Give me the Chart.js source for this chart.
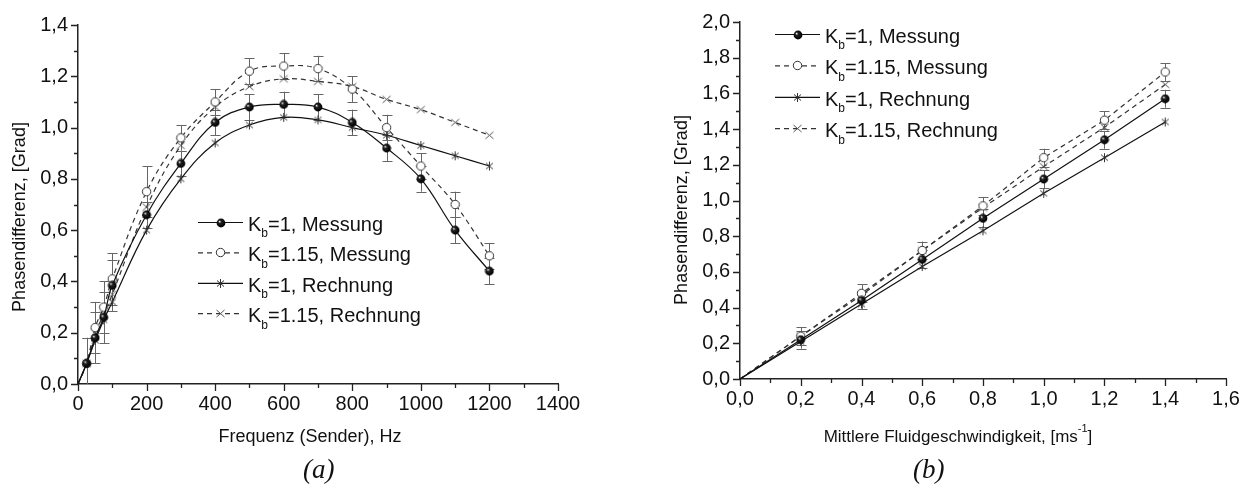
<!DOCTYPE html>
<html>
<head>
<meta charset="utf-8">
<script src="https://cdn.jsdelivr.net/npm/chart.js@4.4.0/dist/chart.umd.min.js"></script>
<style>
  body { margin: 0; background: #fff; width: 1250px; height: 497px; overflow: hidden; position: relative; }
  canvas { position: absolute; top: 0; }
  #chartA { left: 0; }
  #chartB { left: 625px; }
  .panel { position: absolute; top: 456px; font: italic 27px "Liberation Serif", serif; line-height: 1; color: #111; }
</style>
</head>
<body>
<canvas id="chartA" width="625" height="497"></canvas>
<canvas id="chartB" width="625" height="497"></canvas>
<div class="panel" style="left:303px">(a)</div>
<div class="panel" style="left:913px">(b)</div>
<script>
// (a) Phasendifferenz über der Senderfrequenz
const freqHz = [0, 25, 50, 75, 100, 200, 300, 400, 500, 600, 700, 800, 900, 1000, 1100, 1200];
const messungKb1 = [0, 0.08, 0.18, 0.26, 0.385, 0.66, 0.86, 1.02, 1.08, 1.09, 1.08, 1.02, 0.92, 0.80, 0.60, 0.44];
const messungKb115 = [0, 0.08, 0.22, 0.30, 0.41, 0.75, 0.96, 1.10, 1.22, 1.24, 1.23, 1.15, 1.00, 0.85, 0.70, 0.50];
const rechnungKb1 = [0, 0.08, 0.17, 0.25, 0.32, 0.60, 0.80, 0.94, 1.01, 1.04, 1.03, 1.00, 0.97, 0.93, 0.89, 0.85];
const rechnungKb115 = [0, 0.08, 0.20, 0.27, 0.35, 0.69, 0.93, 1.08, 1.16, 1.19, 1.18, 1.16, 1.11, 1.07, 1.02, 0.97];
const fehlerKb1 = [0, 0.1, 0.1, 0.1, 0.1, 0.05, 0.05, 0.05, 0.05, 0.05, 0.05, 0.05, 0.05, 0.05, 0.05, 0.05];
const fehlerKb115 = [0, 0.1, 0.1, 0.1, 0.1, 0.1, 0.05, 0.05, 0.05, 0.05, 0.05, 0.05, 0.05, 0.05, 0.05, 0.05];

// (b) Phasendifferenz über der mittleren Fluidgeschwindigkeit
const geschw = [0, 0.2, 0.4, 0.6, 0.8, 1.0, 1.2, 1.4];
const messungB1 = [0, 0.22, 0.44, 0.67, 0.90, 1.12, 1.34, 1.57];
const messungB115 = [0, 0.24, 0.48, 0.72, 0.97, 1.24, 1.45, 1.72];
const rechnungB1 = [0, 0.21, 0.42, 0.63, 0.83, 1.04, 1.24, 1.44];
const rechnungB115 = [0, 0.24, 0.47, 0.72, 0.96, 1.19, 1.41, 1.65];
const fehlerB = [0, 0.05, 0.05, 0.05, 0.05, 0.05, 0.05, 0.05];

const labels = ['K_b=1, Messung', 'K_b=1.15, Messung', 'K_b=1, Rechnung', 'K_b=1.15, Rechnung'];

const FONT = '"Liberation Sans", Arial, sans-serif';

// Symbole als kleine Canvas-Bilder
function symbol(size, draw) {
  const c = document.createElement('canvas');
  c.width = size; c.height = size;
  draw(c.getContext('2d'), size / 2);
  return c;
}
const kugel = symbol(10, (g, m) => {
  const grad = g.createRadialGradient(m - 1.5, m - 1.5, 0.2, m - 0.5, m - 0.5, 4.6);
  grad.addColorStop(0, '#f0f0f0');
  grad.addColorStop(0.3, '#222');
  grad.addColorStop(1, '#000');
  g.fillStyle = grad;
  g.beginPath(); g.arc(m, m, 4.4, 0, Math.PI * 2); g.fill();
});
const kreis = symbol(11, (g, m) => {
  g.fillStyle = '#fff'; g.strokeStyle = '#333'; g.lineWidth = 1;
  g.beginPath(); g.arc(m, m, 4.2, 0, Math.PI * 2); g.fill(); g.stroke();
});
const stern = symbol(11, (g, m) => {
  g.strokeStyle = '#333'; g.lineWidth = 1;
  g.beginPath();
  g.moveTo(m, 1); g.lineTo(m, 10);
  g.moveTo(2, 2.5); g.lineTo(9, 8.5);
  g.moveTo(9, 2.5); g.lineTo(2, 8.5);
  g.stroke();
});
const kreuz = symbol(11, (g, m) => {
  g.strokeStyle = '#555'; g.lineWidth = 1;
  g.beginPath();
  g.moveTo(1.5, 2); g.lineTo(9.5, 9);
  g.moveTo(9.5, 2); g.lineTo(1.5, 9);
  g.stroke();
});

function reihe(label, xs, ys, punkt, gestrichelt, fehler, tension) {
  return {
    label: label,
    data: xs.map((x, i) => ({ x: x, y: ys[i] })),
    borderColor: gestrichelt ? '#333' : '#111',
    borderWidth: 1.2,
    borderDash: gestrichelt ? [5, 4] : [],
    pointStyle: punkt,
    pointRadius: c => (c.dataIndex === 0 ? 0 : 4),
    tension: tension,
    fill: false,
    fehler: fehler
  };
}

// Kurze Striche an den Achsen (Haupt- und Zwischenteilung)
const achsenStriche = {
  id: 'achsenStriche',
  afterDraw(chart) {
    const { ctx } = chart;
    const { x, y } = chart.scales;
    ctx.save();
    ctx.strokeStyle = '#222';
    ctx.lineWidth = 1.3;
    ctx.beginPath();
    x.ticks.forEach(t => {
      const px = Math.round(x.getPixelForValue(t.value)) + 0.5;
      ctx.moveTo(px, x.top);
      ctx.lineTo(px, x.top + (t.label ? 7 : 4));
    });
    y.ticks.forEach(t => {
      const py = Math.round(y.getPixelForValue(t.value)) + 0.5;
      ctx.moveTo(y.right, py);
      ctx.lineTo(y.right - (t.label ? 7 : 4), py);
    });
    ctx.stroke();
    ctx.restore();
  }
};

// Fehlerbalken der Messreihen
const fehlerBalken = {
  id: 'fehlerBalken',
  beforeDatasetsDraw(chart) {
    const { ctx, chartArea: a } = chart;
    const yS = chart.scales.y;
    ctx.save();
    ctx.beginPath();
    ctx.rect(a.left, a.top - 20, a.right - a.left + 20, a.bottom - a.top + 20);
    ctx.clip();
    ctx.strokeStyle = '#666';
    ctx.lineWidth = 1;
    ctx.beginPath();
    chart.data.datasets.forEach((ds, di) => {
      if (!ds.fehler) return;
      chart.getDatasetMeta(di).data.forEach((pt, i) => {
        const e = ds.fehler[i];
        if (!e) return;
        const v = ds.data[i].y;
        const top = yS.getPixelForValue(v + e);
        const bot = Math.min(yS.getPixelForValue(v - e), a.bottom);
        const px = Math.round(pt.x) + 0.5;
        ctx.moveTo(px, top); ctx.lineTo(px, bot);
        ctx.moveTo(px - 5, Math.round(top) + 0.5); ctx.lineTo(px + 5, Math.round(top) + 0.5);
        if (bot < a.bottom) { ctx.moveTo(px - 5, Math.round(bot) + 0.5); ctx.lineTo(px + 5, Math.round(bot) + 0.5); }
      });
    });
    ctx.stroke();
    ctx.restore();
  }
};

// Text mit Tief-/Hochstellung: Teile der Form {t, sub, sup}
function teileBreite(ctx, teile, size) {
  let w = 0;
  teile.forEach(p => {
    ctx.font = ((p.sub || p.sup) ? Math.round(size * 0.62) : size) + 'px ' + FONT;
    w += ctx.measureText(p.t).width;
  });
  return w;
}
function teileZeichnen(ctx, teile, x, base, size) {
  teile.forEach(p => {
    const s = (p.sub || p.sup) ? Math.round(size * 0.62) : size;
    ctx.font = s + 'px ' + FONT;
    const dy = p.sub ? size * 0.32 : p.sup ? -size * 0.45 : 0;
    ctx.fillText(p.t, x, base + dy);
    x += ctx.measureText(p.t).width;
  });
}
function labelTeile(label) {
  const [k, rest] = label.split('_b');
  return [{ t: k }, { t: 'b', sub: true }, { t: rest }];
}

const legende = {
  id: 'legende',
  afterDraw(chart, args, o) {
    const { ctx } = chart;
    chart.data.datasets.forEach((ds, i) => {
      const cy = o.y + i * o.zeile;
      ctx.save();
      ctx.strokeStyle = ds.borderColor;
      ctx.lineWidth = ds.borderWidth;
      ctx.setLineDash(ds.borderDash);
      ctx.beginPath();
      ctx.moveTo(o.x, cy - 1.5); ctx.lineTo(o.x + o.laenge, cy - 1.5);
      ctx.stroke();
      ctx.restore();
      const img = ds.pointStyle;
      ctx.drawImage(img, Math.round(o.x + o.laenge / 2 - img.width / 2), Math.round(cy - 1.5 - img.height / 2));
      ctx.save();
      ctx.fillStyle = '#111';
      ctx.textBaseline = 'alphabetic';
      teileZeichnen(ctx, labelTeile(ds.label), o.x + o.laenge + 5, cy + 7, 20);
      ctx.restore();
    });
  }
};

const achsenTitel = {
  id: 'achsenTitel',
  afterDraw(chart, args, o) {
    const { ctx } = chart;
    ctx.save();
    ctx.fillStyle = '#111';
    ctx.textBaseline = 'middle';
    const wx = teileBreite(ctx, o.x.teile, o.x.groesse);
    teileZeichnen(ctx, o.x.teile, o.x.cx - wx / 2, o.x.cy, o.x.groesse);
    ctx.translate(o.y.cx, o.y.cy);
    ctx.rotate(-Math.PI / 2);
    const wy = teileBreite(ctx, o.y.teile, o.y.groesse);
    teileZeichnen(ctx, o.y.teile, -wy / 2, 0, o.y.groesse);
    ctx.restore();
  }
};

const komma = v => v.toFixed(1).replace('.', ',');

function diagramm(id, cfg) {
  const tickFont = { family: FONT, size: 20 };
  new Chart(document.getElementById(id), {
    type: 'line',
    data: { datasets: cfg.datasets },
    options: {
      responsive: false,
      animation: false,
      events: [],
      layout: { padding: cfg.padding },
      scales: {
        x: {
          type: 'linear',
          min: cfg.xMin, max: cfg.xMax,
          afterFit: s => { s.height = cfg.xHoehe; },
          grid: { display: false, drawTicks: false },
          border: { display: true, color: '#222', width: 1.5 },
          ticks: {
            stepSize: cfg.xStep, autoSkip: false, maxRotation: 0, padding: 8,
            color: '#111', font: tickFont,
            callback: cfg.xLabel
          }
        },
        y: {
          min: 0, max: cfg.yMax,
          afterFit: s => { s.width = cfg.yBreite; },
          grid: { display: false, drawTicks: false },
          border: { display: true, color: '#222', width: 1.5 },
          ticks: {
            stepSize: 0.1, autoSkip: false, padding: 10,
            color: '#111', font: tickFont,
            callback: v => (Math.round(v * 10) % 2 === 0 ? komma(v) : '')
          }
        }
      },
      plugins: {
        legend: { display: false },
        tooltip: { enabled: false },
        legende: cfg.legende,
        achsenTitel: cfg.titel
      }
    },
    plugins: [fehlerBalken, achsenStriche, legende, achsenTitel]
  });
}

const yTitel = [{ t: 'Phasendifferenz, [Grad]' }];

diagramm('chartA', {
  datasets: [
    reihe(labels[0], freqHz, messungKb1, kugel, false, fehlerKb1, 0.4),
    reihe(labels[1], freqHz, messungKb115, kreis, true, fehlerKb115, 0.4),
    reihe(labels[2], freqHz, rechnungKb1, stern, false, null, 0.4),
    reihe(labels[3], freqHz, rechnungKb115, kreuz, true, null, 0.4)
  ],
  padding: { left: 0, top: 25, right: 67, bottom: 0 },
  xMin: 0, xMax: 1400, xStep: 100, yMax: 1.4,
  xHoehe: 113, yBreite: 78,
  xLabel: v => (v % 200 === 0 ? String(v) : ''),
  legende: { x: 198, y: 224, zeile: 30.4, laenge: 45 },
  titel: {
    x: { teile: [{ t: 'Frequenz (Sender), Hz' }], cx: 310, cy: 437, groesse: 18 },
    y: { teile: yTitel, cx: 20, cy: 217, groesse: 18 }
  }
});

diagramm('chartB', {
  datasets: [
    reihe(labels[0], geschw, messungB1, kugel, false, fehlerB, 0),
    reihe(labels[1], geschw, messungB115, kreis, true, fehlerB, 0),
    reihe(labels[2], geschw, rechnungB1, stern, false, null, 0),
    reihe(labels[3], geschw, rechnungB115, kreuz, true, null, 0)
  ],
  padding: { left: 0, top: 16, right: 24, bottom: 0 },
  xMin: 0, xMax: 1.6, xStep: 0.1, yMax: 2.0,
  xHoehe: 118, yBreite: 115,
  xLabel: v => (Math.round(v * 10) % 2 === 0 ? komma(v) : ''),
  legende: { x: 150, y: 36, zeile: 31.4, laenge: 45 },
  titel: {
    x: { teile: [{ t: 'Mittlere Fluidgeschwindigkeit, [ms' }, { t: '-1', sup: true }, { t: ']' }], cx: 333, cy: 437, groesse: 17 },
    y: { teile: yTitel, cx: 57, cy: 210, groesse: 18 }
  }
});
</script>
</body>
</html>
